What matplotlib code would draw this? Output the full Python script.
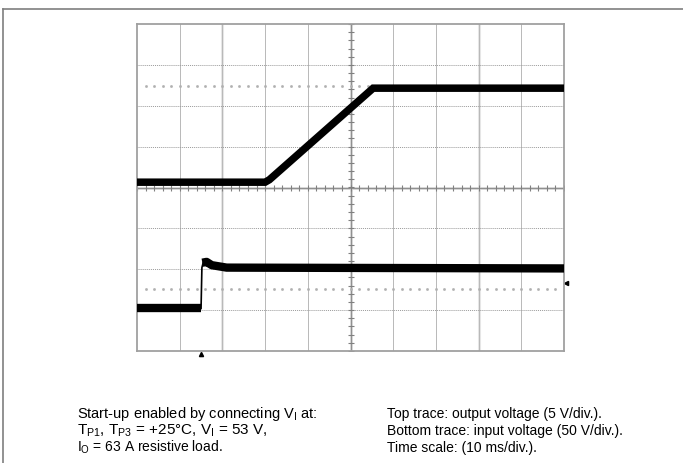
import matplotlib
matplotlib.use("Agg")
import numpy as np
import matplotlib.pyplot as plt
from matplotlib.lines import Line2D

plt.rcParams['font.family'] = ['Liberation Sans', 'DejaVu Sans']
plt.rcParams['mathtext.fontset'] = 'custom'
plt.rcParams['mathtext.rm'] = 'Liberation Sans'
plt.rcParams['mathtext.it'] = 'Liberation Sans:italic'

# scope settings
time_per_div = 10.0      # ms/div
out_per_div = 5.0        # V/div (top trace)
in_per_div = 50.0        # V/div (bottom trace)
out_ground = 0.13        # div, ground marker of top trace
in_ground = -2.96        # div, ground marker of bottom trace

# top trace: output voltage (ms, V)
out_t = [0.0, 30.0, 31.0, 55.3, 100.0]
out_v = [0.0, 0.0, 0.3, 11.5, 11.5]

# bottom trace: input voltage (ms, V)
in_low_t = [0.0, 15.0]
in_low_v = [0.0, 0.0]
in_rise_t = [15.0, 15.2, 15.5]
in_rise_v = [0.0, 50.0, 56.0]
in_high_t = [15.3, 16.3, 17.5, 21.0, 100.0]
in_high_v = [56.0, 57.0, 53.0, 50.0, 49.0]

trigger_t = 15.0
ref_levels = [2.48, -2.48]   # dotted level markers (div)
right_marker = -2.33         # div

W, H = 683, 464
fig = plt.figure(figsize=(W / 100, H / 100), dpi=100)

# outer frame of the page
frame_c = '#7f7f7f'
fig.add_artist(Line2D([3 / W, 3 / W], [0, 1 - 10 / H], color=frame_c, lw=1.2,
                      transform=fig.transFigure))
fig.add_artist(Line2D([3 / W, 1], [1 - 10 / H, 1 - 10 / H], color=frame_c, lw=1.2,
                      transform=fig.transFigure))

# scope screen
l, t, r, b = 137, 25, 564, 352
ax = fig.add_axes([l / W, 1 - b / H, (r - l) / W, (b - t) / H])
ax.set_xlim(0, 10 * time_per_div)
ax.set_ylim(-4, 4)
ax.set_xticks([])
ax.set_yticks([])
for s in ax.spines.values():
    s.set_color('#a0a0a0')
    s.set_linewidth(1.3)

# grid
for k in range(1, 10):
    x = k * time_per_div
    if k in (2, 8):
        ax.axvline(x, color='#e6e6e6', lw=2.2, zorder=0)
    ax.axvline(x, color='#b8b8b8', lw=0.7, zorder=1)
for k in range(-3, 4):
    ax.axhline(k, color='#9a9a9a', lw=0.7, ls=(0, (1, 1)), zorder=1)

# centre crosshair with minor ticks
cx = 5 * time_per_div
ax.axvline(cx, color='#d8d8d8', lw=2.0, zorder=0)
ax.axvline(cx, color='#909090', lw=0.8, zorder=1)
ax.axhline(0, color='#d8d8d8', lw=2.0, zorder=0)
ax.axhline(0, color='#909090', lw=0.8, zorder=1)
minor_x = np.arange(0, 100.01, time_per_div / 5)
minor_y = np.arange(-4, 4.01, 0.2)
ax.plot(minor_x, np.zeros_like(minor_x), ls='none', marker='|', ms=4,
        mew=0.8, color='#808080', zorder=1)
ax.plot(np.full_like(minor_y, cx), minor_y, ls='none', marker='_', ms=4,
        mew=0.8, color='#808080', zorder=1)

# dotted level markers
dot_x = np.arange(2, 99, 2)
for lev in ref_levels:
    ax.plot(dot_x, np.full(len(dot_x), lev),
            ls='none', marker='s', ms=0.9, color='#b0b0b0', zorder=1)

# traces
ot = np.array(out_t)
ov = out_ground + np.array(out_v) / out_per_div
ax.plot(ot, ov, color='black', lw=5.4, solid_capstyle='butt',
        solid_joinstyle='miter', zorder=3)

ax.plot(in_low_t, in_ground + np.array(in_low_v) / in_per_div, color='black',
        lw=6.0, solid_capstyle='butt', zorder=3)
ax.plot(in_rise_t, in_ground + np.array(in_rise_v) / in_per_div, color='black',
        lw=1.2, zorder=3)
ax.plot(in_high_t, in_ground + np.array(in_high_v) / in_per_div, color='black',
        lw=6.0, solid_capstyle='butt', solid_joinstyle='round', zorder=3)

# trigger and level markers
ax.plot([trigger_t], [-4.07], marker='^', ms=3, color='black', clip_on=False)
ax.plot([100.4], [right_marker], marker='<', ms=3, color='black', clip_on=False)

# caption
fs = 10
fig.text(77 / W, 1 - 418 / H, r"Start-up enabled by connecting $\mathrm{V_I}$ at:",
         fontsize=fs + 0.5)
fig.text(77 / W, 1 - 435 / H,
         r"$\mathrm{T_{P1}}$, $\mathrm{T_{P3}}$ = +25°C, $\mathrm{V_I}$ = 53 V,",
         fontsize=fs + 1)
fig.text(77 / W, 1 - 452 / H, r"$\mathrm{I_O}$ = 63 A resistive load.", fontsize=fs)
fig.text(387 / W, 1 - 418 / H, "Top trace: output voltage (5 V/div.).", fontsize=fs)
fig.text(387 / W, 1 - 435 / H, "Bottom trace: input voltage (50 V/div.).", fontsize=fs)
fig.text(387 / W, 1 - 452 / H, "Time scale: (10 ms/div.).", fontsize=fs)

fig.savefig("out.png", dpi=100)
